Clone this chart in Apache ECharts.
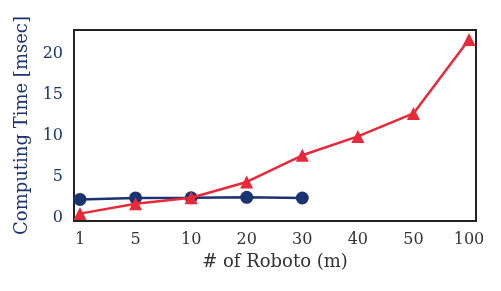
<!DOCTYPE html>
<html>
<head>
<meta charset="utf-8">
<script src="https://cdn.jsdelivr.net/npm/echarts@6/dist/echarts.min.js"></script>
<style>
html,body{margin:0;padding:0;background:#fff;}
#main{width:501px;height:291px;}
</style>
</head>
<body>
<div id="main"></div>
<script>
// robots count, shown as evenly spaced categories
var robots = ['1', '5', '10', '20', '30', '40', '50', '100'];
var blueTimes = [2.28, 2.46, 2.48, 2.53, 2.45];
var redTimes = [0.55, 1.76, 2.48, 4.4, 7.65, 9.95, 12.75, 21.75];
var yTicks = [0, 5, 10, 15, 20];

var blueCol = '#1b3371';
var redCol = '#e8293a';
var font = 'DejaVu Serif';

function toPairs(arr){
	var out = [];
	for (var i = 0; i < arr.length; i++) out.push([i, arr[i]]);
	return out;
}
var xIdx = robots.map(function(r, i){ return i; });

var myChart = echarts.init(document.getElementById('main'));
myChart.setOption({
	animation: false,
	grid: {
		left: 74, top: 30, right: 25, bottom: 70,
		show: true, borderColor: '#222', borderWidth: 2, backgroundColor: 'transparent'
	},
	xAxis: {
		type: 'value',
		min: -0.108, max: 7.126,
		name: '# of Roboto (m)',
		nameLocation: 'middle',
		nameGap: 26,
		nameTextStyle: { fontFamily: font, fontSize: 18, color: '#333' },
		axisLine: { show: false },
		axisTick: { show: false },
		splitLine: { show: false },
		axisLabel: {
			customValues: xIdx,
			formatter: function(v){ return robots[Math.round(v)]; },
			fontFamily: font, fontSize: 16, color: '#333', margin: 11
		}
	},
	yAxis: {
		type: 'value',
		min: -0.35, max: 22.9,
		name: 'Computing Time [msec]',
		nameLocation: 'middle',
		nameGap: 41,
		nameTextStyle: { fontFamily: font, fontSize: 18, color: blueCol },
		axisLine: { show: false },
		axisTick: { show: false },
		splitLine: { show: false },
		axisLabel: {
			customValues: yTicks,
			fontFamily: font, fontSize: 16, color: blueCol, margin: 11
		}
	},
	series: [{
		type: 'line',
		data: toPairs(blueTimes),
		symbol: 'circle',
		symbolSize: 13,
		lineStyle: { color: blueCol, width: 2.5 },
		itemStyle: { color: blueCol },
		z: 3
	}, {
		type: 'line',
		data: toPairs(redTimes),
		symbol: 'triangle',
		symbolSize: 13,
		lineStyle: { color: redCol, width: 2.5 },
		itemStyle: { color: redCol },
		z: 4
	}]
});
</script>
</body>
</html>
